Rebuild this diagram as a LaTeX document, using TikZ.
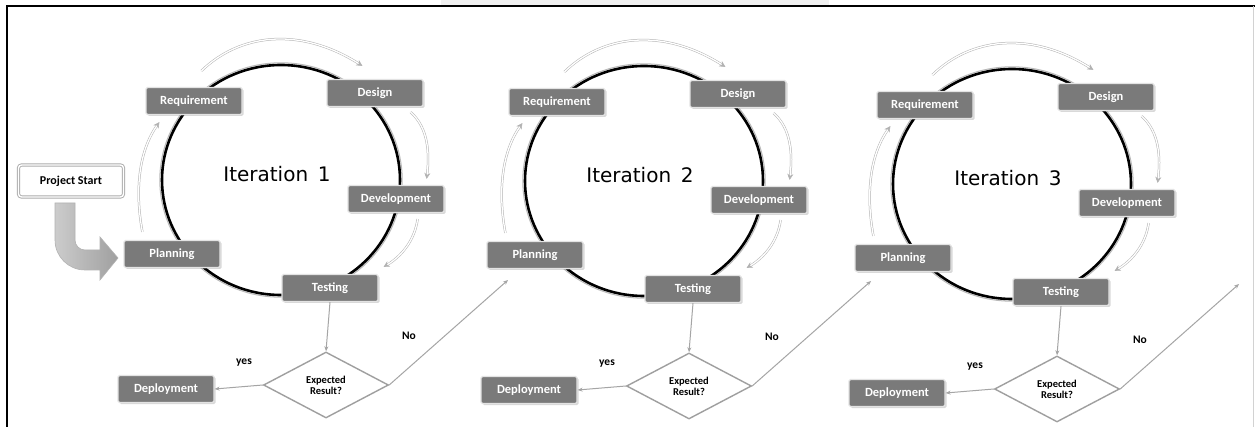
\documentclass[tikz,border=0pt]{standalone}
\usepackage{fontspec}
\setmainfont{Carlito}
\newfontfamily\iterfont{DejaVu Sans}
\usetikzlibrary{shapes.geometric,shadows,arrows.meta}
\definecolor{boxgray}{RGB}{122,122,122}
\definecolor{linegray}{RGB}{165,165,165}
\begin{document}
\begin{tikzpicture}[x=1pt,y=-1pt,
  stepbox/.style={rectangle, rounded corners=1.5pt, fill=boxgray, draw=gray!22,
    line width=1.2pt, minimum width=96pt, minimum height=27pt, inner sep=0pt,
    text=white, font=\bfseries\fontsize{12.5}{13}\selectfont,
    drop shadow={shadow xshift=1.5pt, shadow yshift=-1.5pt, opacity=0.3}},
  startbox/.style={rectangle, rounded corners=3pt, fill=white, draw=gray!65,
    double=white, double distance=1.4pt, line width=0.9pt,
    minimum width=105pt, minimum height=32pt, inner sep=0pt,
    font=\bfseries\fontsize{12}{13}\selectfont},
  decision/.style={diamond, draw=gray!75, line width=1.4pt, fill=white,
    minimum width=125pt, minimum height=66pt, inner sep=0pt, aspect=1.9,
    align=center, font=\bfseries\fontsize{10.5}{11}\selectfont},
  cyc/.style={draw=gray!60, double=white, double distance=1.3pt, line width=0.5pt,
    -{Stealth[length=6pt,width=6pt]}},
  flow/.style={draw=linegray, line width=1pt, -{Stealth[length=5pt,width=4pt]}},
  lbl/.style={font=\bfseries\fontsize{11.5}{12}\selectfont},
  iterlbl/.style={font=\iterfont\fontsize{20}{22}\selectfont},
]
\useasboundingbox (0,0) rectangle (1255,427);
\fill[white] (0,0) rectangle (1255,427);
% faint watermark band at the top
\fill[gray!12] (441,0) rectangle (829,5);
% frame
\draw[line width=1.3pt] (7,427) -- (7,6) -- (1255,6);
\draw[gray!35, line width=0.8pt] (1253,6) -- (1253,427);

\foreach \i/\dx/\dy in {1/0/0, 2/363/1, 3/731/4} {
  \begin{scope}[shift={(\dx,\dy)}]
    % ring
    \draw[gray!55, line width=1pt] (281,180) ellipse [x radius=121.2, y radius=117.2];
    \draw[black, line width=2.6pt] (281,180) ellipse [x radius=119, y radius=115];
    \node[iterlbl] (it\i) at (277,174) {Iteration \,\i};
    % steps
    \node[stepbox] (req\i) at (194,101) {Requirement};
    \node[stepbox] (des\i) at (375,93) {Design};
    \node[stepbox] (dev\i) at (396,199) {Development};
    \node[stepbox] (pla\i) at (172,254) {Planning};
    \node[stepbox] (tes\i) at (330,288) {Testing};
    \node[stepbox] (dep\i) at (166,389) {Deployment};
    \node[decision] (dia\i) at (326,385) {Expected\\Result?};
    \node[lbl] (yes\i) at (244,363) {yes};
    \node[lbl] (no\i) at (409,336) {No};
    \coordinate (noend\i) at (508,280);
    % cycle arrows
    \draw[cyc] ([xshift=19pt,yshift=8pt]pla\i.north west)
       .. controls +(-8,-43) and +(-20,28) .. ([xshift=14pt,yshift=-7pt]req\i.south west);
    \draw[cyc] ([xshift=56pt,yshift=16pt]req\i.north west)
       .. controls +(38,-37) and +(-63,-40) .. ([xshift=36pt,yshift=13pt]des\i.north west);
    \draw[cyc] ([xshift=-13pt,yshift=-5pt]des\i.south east)
       .. controls +(18,16) and +(3,-25) .. ([xshift=-18pt,yshift=6pt]dev\i.north east);
    \draw[cyc] ([xshift=-27pt,yshift=-6pt]dev\i.south east)
       .. controls +(-3,22) and +(17,-10) .. ([xshift=5pt,yshift=7pt]tes\i.north east);
    % decision flow
    \draw[flow] (tes\i.south) -- (dia\i.north);
    \draw[flow] (dia\i.west) -- (dep\i.east);
    \draw[flow] (dia\i.east) -- (noend\i);
  \end{scope}
}

% project start
\node[startbox] (ps) at (71,181) {Project Start};
\shade[left color=gray!40, right color=gray!75, draw=gray!60, line width=0.6pt]
  (55,203) -- (55,240) .. controls (55,256.6) and (68.4,270) .. (85,270)
  -- (100,270) -- (100,280) -- (118,258) -- (100,237) -- (100,250) -- (85,250)
  .. controls (79.5,250) and (75,245.5) .. (75,240) -- (75,203) -- cycle;
\end{tikzpicture}
\end{document}
